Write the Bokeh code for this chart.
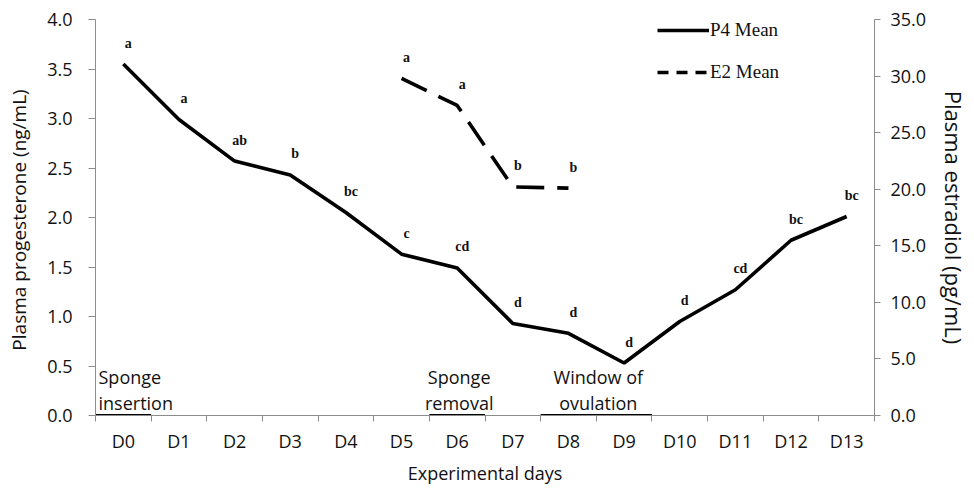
from bokeh.plotting import figure
from bokeh.models import (Range1d, LinearAxis, FixedTicker, Legend, LegendItem,
                          ColumnDataSource, LabelSet, PrintfTickFormatter)
from bokeh.core.properties import value
from bokeh.embed import file_html
from bokeh.resources import INLINE

# ---------------- data ----------------
days = ["D0", "D1", "D2", "D3", "D4", "D5", "D6", "D7", "D8", "D9", "D10", "D11", "D12", "D13"]
day_pos = list(range(len(days)))
p4_mean = [3.55, 2.99, 2.57, 2.43, 2.05, 1.63, 1.49, 0.93, 0.83, 0.53, 0.95, 1.27, 1.77, 2.01]
p4_letters = ["a", "a", "ab", "b", "bc", "c", "cd", "d", "d", "d", "d", "cd", "bc", "bc"]
e2_pos = [5, 6, 7, 8]
e2_mean = [29.8, 27.4, 20.2, 20.1]
e2_letters = ["a", "a", "b", "b"]
p4_ticks = [0.0, 0.5, 1.0, 1.5, 2.0, 2.5, 3.0, 3.5, 4.0]
e2_ticks = [0.0, 5.0, 10.0, 15.0, 20.0, 25.0, 30.0, 35.0]
event_text = ["Sponge\ninsertion", "Sponge\nremoval", "Window of\novulation"]
event_first_day = [0, 6, 8]
event_last_day = [0, 6, 9]

AXIS_GRAY = "#8c8c8c"
TXT = "#111111"
FONT = "Open Sans"
SERIF = "Liberation Serif"

p = figure(width=972, height=487, output_backend="svg", toolbar_location=None,
           x_range=Range1d(-0.5, 13.5), y_range=Range1d(0, 4.0),
           min_border_left=95, min_border_right=95, min_border_top=19, min_border_bottom=71)
p.outline_line_color = None
p.xgrid.visible = False
p.ygrid.visible = False
p.extra_y_ranges = {"e2": Range1d(0, 35.0)}

# x axis: labels at day centres, tick marks at day boundaries
xa = p.xaxis[0]
bounds = [d - 0.5 for d in day_pos] + [day_pos[-1] + 0.5]
xa.ticker = FixedTicker(ticks=day_pos, minor_ticks=bounds)
xa.major_label_overrides = {d: lab for d, lab in zip(day_pos, days)}
xa.major_tick_line_color = None
xa.major_tick_out = 6
xa.major_tick_in = 0
xa.minor_tick_out = 6
xa.minor_tick_in = 0
xa.minor_tick_line_color = AXIS_GRAY
xa.axis_line_color = AXIS_GRAY
xa.major_label_standoff = 7
xa.major_label_text_font = FONT
xa.major_label_text_font_size = "18px"
xa.major_label_text_color = TXT
xa.axis_label = "Experimental days"
xa.axis_label_text_font = FONT
xa.axis_label_text_font_size = "18px"
xa.axis_label_text_font_style = "normal"
xa.axis_label_text_color = TXT
xa.axis_label_standoff = 5

ya = p.yaxis[0]
ya.ticker = FixedTicker(ticks=p4_ticks)
ya.formatter = PrintfTickFormatter(format="%.1f")
ya.major_tick_out = 7
ya.major_tick_in = 0
ya.minor_tick_line_color = None
ya.major_tick_line_color = AXIS_GRAY
ya.axis_line_color = AXIS_GRAY
ya.major_label_standoff = 16
ya.major_label_text_font = FONT
ya.major_label_text_font_size = "18px"
ya.major_label_text_color = TXT
ya.axis_label = "Plasma  progesterone (ng/mL)"
ya.axis_label_text_font = FONT
ya.axis_label_text_font_size = "19px"
ya.axis_label_text_font_style = "normal"
ya.axis_label_text_color = TXT
ya.axis_label_standoff = 12

ra = LinearAxis(y_range_name="e2", ticker=FixedTicker(ticks=e2_ticks),
                formatter=PrintfTickFormatter(format="%.1f"))
ra.major_tick_out = 6
ra.major_tick_in = 0
ra.minor_tick_line_color = None
ra.major_tick_line_color = AXIS_GRAY
ra.axis_line_color = AXIS_GRAY
ra.major_label_standoff = 10
ra.major_label_text_font = FONT
ra.major_label_text_font_size = "18px"
ra.major_label_text_color = TXT
ra.axis_label = "Plasma estradiol (pg/mL)"
ra.axis_label_text_font = FONT
ra.axis_label_text_font_size = "22px"
ra.axis_label_text_font_style = "normal"
ra.axis_label_text_color = TXT
ra.axis_label_standoff = 10
p.add_layout(ra, "right")

# event bars on the x axis
ev_x0 = [d - 0.5 for d in event_first_day]
ev_x1 = [d + 0.5 for d in event_last_day]
p.segment(x0=ev_x0, x1=ev_x1, y0=[0] * len(ev_x0), y1=[0] * len(ev_x0),
          line_color="black", line_width=3)

# event texts
p.text(x=[ev_x0[0]], y=[0], text=[event_text[0]], text_align="left", text_baseline="bottom",
       x_offset=3, y_offset=0, text_font=value(FONT), text_font_size="18px",
       text_color=TXT, text_line_height=1.1)
mids = [(a + b) / 2 for a, b in zip(ev_x0[1:], ev_x1[1:])]
p.text(x=mids, y=[0] * len(mids), text=event_text[1:], text_align="center", text_baseline="bottom",
       x_offset=2, y_offset=0, text_font=value(FONT), text_font_size="18px",
       text_color=TXT, text_line_height=1.1)

# series
src_p4 = ColumnDataSource(dict(x=day_pos, y=p4_mean, t=p4_letters))
src_e2 = ColumnDataSource(dict(x=e2_pos, y=e2_mean, t=e2_letters))
r_p4 = p.line("x", "y", source=src_p4, line_color="black", line_width=3.6)
r_e2 = p.line("x", "y", source=src_e2, y_range_name="e2", line_color="black",
              line_width=3.6, line_dash="28 13")

for src, rng in ((src_p4, "default"), (src_e2, "e2")):
    p.add_layout(LabelSet(x="x", y="y", text="t", source=src, y_range_name=rng,
                          x_offset=5, y_offset=21, text_align="center", text_baseline="middle",
                          text_font=value(SERIF), text_font_style="bold",
                          text_font_size="14px", text_color=TXT))

# legend glyph renderers (no visible data in the plot area)
nan = float("nan")
leg_p4 = p.line(x=[nan], y=[nan], line_color="black", line_width=3.6)
leg_e2 = p.line(x=[nan], y=[nan], line_color="black", line_width=3.6, line_dash="11 8")
legend = Legend(items=[LegendItem(label="P4 Mean", renderers=[leg_p4]),
                       LegendItem(label="E2 Mean", renderers=[leg_e2])],
                location=(562, 332), orientation="vertical",
                background_fill_alpha=0, border_line_alpha=0, padding=0, margin=0,
                spacing=20, glyph_height=20, glyph_width=52, label_height=20,
                label_standoff=1, label_text_font=SERIF, label_text_font_size="19px",
                label_text_color=TXT)
p.add_layout(legend)

open("out.html", "w").write(file_html(p, INLINE))
